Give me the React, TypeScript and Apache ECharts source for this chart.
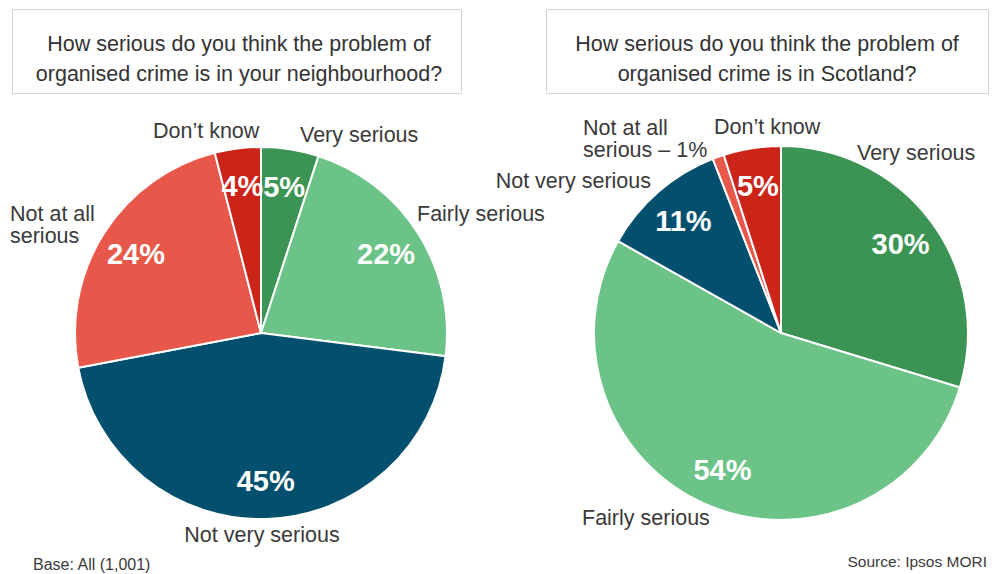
import React, { useEffect, useRef } from "react";
import * as echarts from "echarts";

const categories = ["Very serious", "Fairly serious", "Not very serious", "Not at all serious", "Don’t know"];
const neighbourhoodValues = [5, 22, 45, 24, 4];
const scotlandValues = [30, 54, 11, 1, 5];
const sliceColors = ["#3b9454", "#6cc387", "#03506e", "#e8584a", "#cb2419"];
const titles = [
  "How serious do you think the problem of\norganised crime is in your neighbourhood?",
  "How serious do you think the problem of\norganised crime is in Scotland?",
];
const leftLabels = ["Very serious", "Fairly serious", "Not very serious", "Not at all\nserious", "Don’t know"];
const rightLabels = ["Very serious", "Fairly serious", "Not very serious", "Not at all\nserious – 1%", "Don’t know"];
const baseNote = "Base: All (1,001)";
const sourceNote = "Source: Ipsos MORI";

const FONT = "'Liberation Sans', Arial, sans-serif";
const TEXT_COLOR = "#3a3a3a";

// label placement (layout only)
const leftLabelPos: [number, number, string][] = [
  [300, 135, "left"],
  [417, 214, "left"],
  [262, 535, "center"],
  [10, 225, "left"],
  [153, 131, "left"],
];
const rightLabelPos: [number, number, string][] = [
  [857, 153, "left"],
  [582, 518, "left"],
  [651, 181, "right"],
  [583, 139, "left"],
  [714, 127, "left"],
];

function makePie(values: number[], center: [number, number], r: number, hideInner: number[]) {
  const data = values.map((v, i) => ({
    name: categories[i],
    value: v,
    itemStyle: { color: sliceColors[i] },
  }));
  const labelData = values.map((v, i) => ({
    name: categories[i],
    value: v,
    itemStyle: { color: "rgba(0,0,0,0)" },
    label: { show: !hideInner.includes(i) },
  }));
  return [
    {
      type: "pie",
      center,
      radius: [0, r],
      startAngle: 90,
      clockwise: true,
      silent: true,
      data,
      label: { show: false },
      labelLine: { show: false },
      itemStyle: { borderColor: "#ffffff", borderWidth: 2 },
    },
    {
      type: "pie",
      center,
      radius: [r * 0.56, r],
      startAngle: 90,
      clockwise: true,
      silent: true,
      avoidLabelOverlap: false,
      labelLayout: { hideOverlap: false },
      data: labelData,
      labelLine: { show: false },
      label: {
        show: true,
        position: "inside",
        formatter: (p: any) => p.value + "%",
        color: "#ffffff",
        fontSize: 29,
        fontWeight: "bold",
        fontFamily: FONT,
      },
      itemStyle: { borderWidth: 0 },
    },
  ];
}

function catTexts(labels: string[], pos: [number, number, string][]) {
  return labels.map((t, i) => ({
    type: "text",
    x: pos[i][0],
    y: pos[i][1],
    style: {
      text: t,
      textAlign: pos[i][2],
      textVerticalAlign: "middle",
      fontSize: 21.5,
      lineHeight: 22,
      fontFamily: FONT,
      fill: TEXT_COLOR,
    },
  }));
}

export default function App() {
  const ref = useRef<HTMLDivElement>(null);
  useEffect(() => {
    if (!ref.current) return;
    const chart = echarts.init(ref.current, undefined, { renderer: "svg" });
    chart.setOption({
      animation: false,
      backgroundColor: "#ffffff",
      series: [
        ...makePie(neighbourhoodValues, [261, 333], 186, []),
        ...makePie(scotlandValues, [781, 333], 187, [3]),
      ],
      graphic: [
        {
          type: "rect",
          shape: { x: 12.5, y: 9.5, width: 449, height: 84 },
          style: { fill: "#ffffff", stroke: "#d4d4d4", lineWidth: 1 },
        },
        {
          type: "rect",
          shape: { x: 546.5, y: 9.5, width: 442, height: 84 },
          style: { fill: "#ffffff", stroke: "#d4d4d4", lineWidth: 1 },
        },
        {
          type: "text",
          x: 239,
          y: 59,
          style: {
            text: titles[0],
            textAlign: "center",
            textVerticalAlign: "middle",
            fontSize: 21.5,
            lineHeight: 30,
            fontFamily: FONT,
            fill: "#333333",
          },
        },
        {
          type: "text",
          x: 767,
          y: 59,
          style: {
            text: titles[1],
            textAlign: "center",
            textVerticalAlign: "middle",
            fontSize: 21.5,
            lineHeight: 30,
            fontFamily: FONT,
            fill: "#333333",
          },
        },
        ...catTexts(leftLabels, leftLabelPos),
        ...catTexts(rightLabels, rightLabelPos),
        {
          type: "text",
          x: 33,
          y: 564,
          style: {
            text: baseNote,
            textAlign: "left",
            textVerticalAlign: "middle",
            fontSize: 16,
            fontFamily: FONT,
            fill: TEXT_COLOR,
          },
        },
        {
          type: "text",
          x: 987,
          y: 561,
          style: {
            text: sourceNote,
            textAlign: "right",
            textVerticalAlign: "middle",
            fontSize: 15.5,
            fontFamily: FONT,
            fill: TEXT_COLOR,
          },
        },
      ],
    });
    return () => chart.dispose();
  }, []);
  return (
    <div
      ref={ref}
      style={{ position: "absolute", left: 0, top: 0, width: 997, height: 574, background: "#fff" }}
    />
  );
}
